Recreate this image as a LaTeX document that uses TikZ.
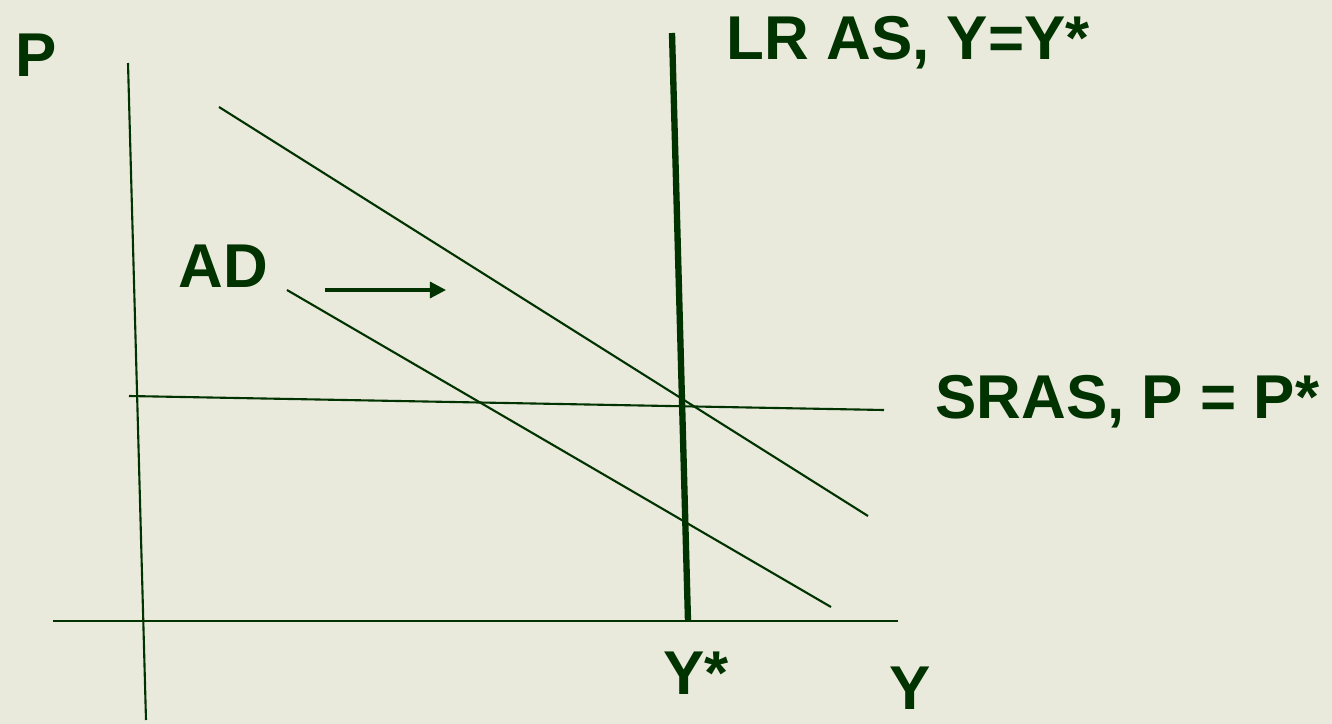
\documentclass[tikz,border=0pt]{standalone}
\usepackage{fontspec}
\setmainfont{Liberation Sans}
\usetikzlibrary{arrows.meta, positioning}
\definecolor{chalk}{HTML}{E9E9DC}
\definecolor{ink}{HTML}{003300}

\tikzset{
  curve/.style={ink, line width=0.6pt},
  label/.style={ink, anchor=base west, inner sep=0pt, font=\fontsize{17.6}{20}\selectfont\bfseries}
}

\begin{document}
\begin{tikzpicture}[x=0.01cm, y=-0.01cm, >={Triangle[length=0.16cm, width=0.16cm]}]
  % Pozadi
  \fill[chalk] (0,0) rectangle (1332,724);
  \useasboundingbox (0,0) rectangle (1332,724);

  % Body
  \coordinate (ptop) at (128,63);
  \coordinate (pbot) at (146,720);
  \coordinate (yleft) at (53,621);
  \coordinate (yright) at (898,621);
  \coordinate (lrtop) at (672,33);
  \coordinate (lrbot) at (688,621);
  \coordinate (srleft) at (129,396);
  \coordinate (srright) at (884,410);
  \coordinate (adhi1) at (219,107);
  \coordinate (adhi2) at (868,516);
  \coordinate (adlo1) at (287,290);
  \coordinate (adlo2) at (831,607);
  \coordinate (shift1) at (325,290);
  \coordinate (shift2) at (446,290);

  % Osy
  \draw[curve] (ptop) -- (pbot);
  \draw[curve] (yleft) -- (yright);

  % LR AS
  \draw[ink, line width=1.8pt] (lrtop) -- (lrbot);

  % SRAS
  \draw[curve] (srleft) -- (srright);

  % AD krivky
  \draw[curve] (adhi1) -- (adhi2);
  \draw[curve] (adlo1) -- (adlo2);
  \draw[ink, line width=0.9pt, ->] (shift1) -- (shift2);

  % Popisky
  \node[label] (lp) at (15,76) {P};
  \node[label] (llr) at (726,59) {LR AS, Y=Y*};
  \node[label] (lad) at (178,287) {AD};
  \node[label] (lsr) at (935,418) {SRAS, P = P*};
  \node[label] (lys) at (663,694) {Y*};
  \node[label] (ly) at (889,709) {Y};
\end{tikzpicture}
\end{document}
